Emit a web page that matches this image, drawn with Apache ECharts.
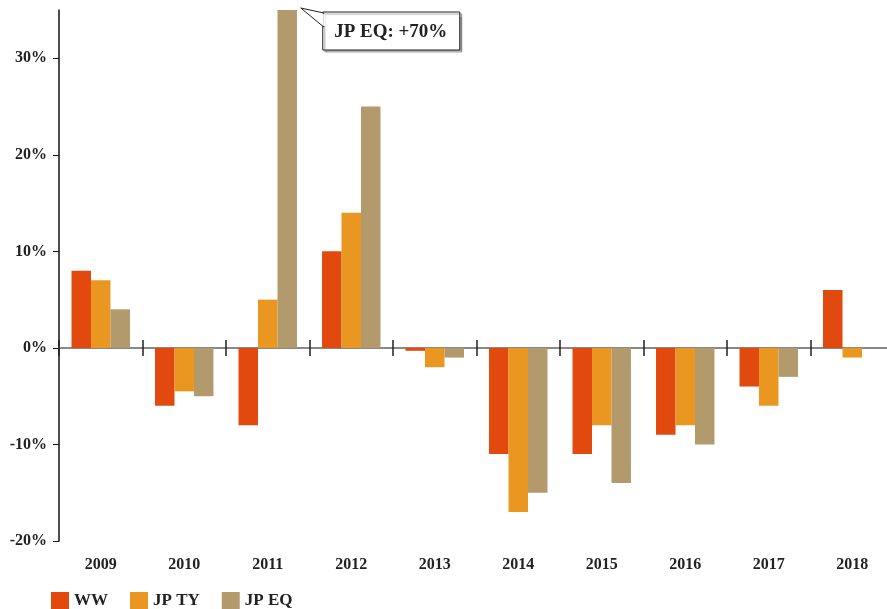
<!DOCTYPE html>
<html>
<head>
<meta charset="utf-8">
<script src="https://cdn.jsdelivr.net/npm/echarts@6/dist/echarts.min.js"></script>
<style>
  html, body { margin: 0; padding: 0; background: #fff; }
  #main { width: 887px; height: 609px; }
</style>
</head>
<body>
<div id="main"></div>
<script>
// values (% change per year)
var years = ['2009', '2010', '2011', '2012', '2013', '2014', '2015', '2016', '2017', '2018'];
var ww   = [8, -6, -8, 10, -0.3, -11, -11, -9, -4, 6];
var jpTy = [7, -4.5, 5, 14, -2, -17, -8, -8, -6, -1];
var jpEq = [4, -5, 70, 25, -1, -15, -14, -10, -3, null];
var yTicks = [-20, -10, 0, 10, 20, 30];

var font = 'Liberation Serif';
var chart = echarts.init(document.getElementById('main'));

// zero line: one x axis draws line + lower tick half, another the upper half
function zeroAxis(inside, withLine, yIndex) {
    return {
        type: 'category',
        data: years,
        position: 'bottom',
        axisLine: { show: withLine, onZero: true, onZeroAxisIndex: yIndex, lineStyle: { color: '#888', width: 2 } },
        axisTick: { show: true, interval: 0, inside: inside, length: 8, lineStyle: { color: '#222', width: 1.5 } },
        axisLabel: { show: false }
    };
}

var option = {
    animation: false,
    textStyle: { fontFamily: font },
    grid: { left: 59, top: 10, bottom: 68, width: 835, outerBoundsMode: 'none', containLabel: false },
    legend: {
        left: 46,
        top: 587,
        itemWidth: 18,
        itemHeight: 18,
        itemGap: 22,
        icon: 'rect',
        textStyle: { fontFamily: font, fontSize: 17, fontWeight: 'bold', color: '#222' },
        data: ['WW', 'JP TY', 'JP EQ']
    },
    xAxis: [
        {
            type: 'category',
            data: years,
            position: 'bottom',
            axisLine: { show: false, onZero: false },
            axisTick: { show: false },
            axisLabel: { margin: 16, fontSize: 16, fontWeight: 'bold', color: '#222', fontFamily: font }
        },
        zeroAxis(false, true, 0),
        zeroAxis(true, false, 1)
    ],
    yAxis: [
        {
            type: 'value',
            min: -20,
            max: 35,
            interval: 10,
            splitLine: { show: false },
            axisLine: { show: true, lineStyle: { color: '#111', width: 1.5 } },
            axisTick: { show: true, length: 6, customValues: yTicks, lineStyle: { color: '#111' } },
            axisLabel: {
                customValues: yTicks,
                margin: 12,
                fontSize: 16,
                fontWeight: 'bold',
                color: '#222',
                fontFamily: font,
                formatter: function (v) { return v + '%'; }
            }
        },
        {
            type: 'value',
            min: -20,
            max: 35,
            interval: 10,
            position: 'right',
            show: false
        }
    ],
    series: [
        { name: 'WW', type: 'bar', data: ww, barGap: '0%', barCategoryGap: '30%', itemStyle: { color: '#E2490F' } },
        { name: 'JP TY', type: 'bar', data: jpTy, itemStyle: { color: '#EA9722' } },
        { name: 'JP EQ', type: 'bar', data: jpEq, itemStyle: { color: '#B39A6C' } }
    ]
};
chart.setOption(option);

// callout for the clipped 2011 JP EQ bar
var tip = chart.convertToPixel({ xAxisIndex: 0, yAxisIndex: 0 }, ['2011', 35]);
var tipX = tip[0] + 33;
var tipY = 8;
var bx = tipX + 22, by = 12;
chart.setOption({
    graphic: [
        {
            type: 'rect',
            shape: { x: bx, y: by, width: 137, height: 38 },
            style: { fill: '#fff', stroke: '#222', lineWidth: 1, shadowColor: 'rgba(0,0,0,0.35)', shadowOffsetX: 2, shadowOffsetY: 2, shadowBlur: 1 },
            z: 100
        },
        {
            type: 'polygon',
            shape: { points: [[tipX, tipY], [bx + 1, by + 1], [bx + 1, by + 15]] },
            style: { fill: '#fff', stroke: '#222', lineWidth: 1 },
            z: 101
        },
        {
            type: 'rect',
            shape: { x: bx + 0.5, y: by + 2, width: 2, height: 12 },
            style: { fill: '#fff' },
            z: 102
        },
        {
            type: 'text',
            x: bx + 68,
            y: by + 20,
            style: {
                text: 'JP EQ: +70%',
                fontFamily: font,
                fontSize: 19,
                fontWeight: 'bold',
                fill: '#222',
                align: 'center',
                verticalAlign: 'middle'
            },
            z: 103
        }
    ]
});
</script>
</body>
</html>
